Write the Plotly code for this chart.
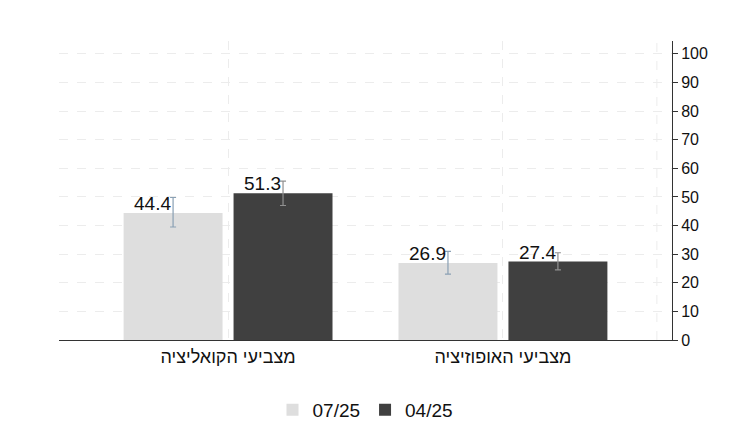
import plotly.graph_objects as go

categories = ["מצביעי הקואליציה", "מצביעי האופוזיציה"]
series_names = ["07/25", "04/25"]
values_0725 = [44.4, 26.9]
values_0425 = [51.3, 27.4]
err_lo_0725 = [39.5, 23.0]
err_hi_0725 = [49.8, 31.0]
err_lo_0425 = [47.0, 24.5]
err_hi_0425 = [55.5, 30.5]
yticks = list(range(0, 101, 10))

xpos = list(range(len(categories)))
W = 0.36
fig = go.Figure()
specs = [(values_0725, err_lo_0725, err_hi_0725, "#dedede", -0.38, "#8aa0b4"),
         (values_0425, err_lo_0425, err_hi_0425, "#404040", 0.02, "#909090")]
for name, (vals, lo, hi, col, off, ecol) in zip(series_names, specs):
    fig.add_trace(go.Bar(
        x=xpos, y=vals, width=W, offset=off, name=name,
        marker=dict(color=col, line=dict(width=0)),
        error_y=dict(type="data", symmetric=False,
                     array=[h - v for h, v in zip(hi, vals)],
                     arrayminus=[v - l for l, v in zip(lo, vals)],
                     color=ecol, thickness=1.2, width=3),
    ))
    for x, v in zip(xpos, vals):
        fig.add_annotation(x=x + off + W / 2, y=v, text=f"{v:.1f}", showarrow=False,
                           xanchor="right", yanchor="bottom", yshift=-3,
                           font=dict(size=19, color="#111"))

fig.add_shape(type="line", x0=1.56, x1=1.56, y0=0, y1=104.5,
              line=dict(color="#ececec", width=1, dash="dash"), layer="below")

fig.update_layout(
    width=741, height=433, plot_bgcolor="white", paper_bgcolor="white",
    margin=dict(l=51, r=77, t=33, b=94),
    font=dict(family="Liberation Sans, Arial", size=16, color="#111"),
    showlegend=True,
    legend=dict(orientation="h", x=0.5, xanchor="center", y=-0.17, yanchor="top",
                font=dict(size=19)),
    xaxis=dict(range=[-0.615, 1.615], tickvals=xpos, ticktext=categories,
               showgrid=True, gridcolor="#ececec", griddash="dash",
               showline=True, linecolor="#333", ticks="", tickfont=dict(size=18),
               zeroline=False),
    yaxis=dict(range=[0, 104.5], side="right", tickvals=yticks,
               showgrid=True, gridcolor="#ececec", griddash="dash",
               showline=True, linecolor="#333", ticks="outside", ticklen=5,
               tickcolor="#333", zeroline=False, tickfont=dict(size=16)),
)
fig.write_html("out.html")
